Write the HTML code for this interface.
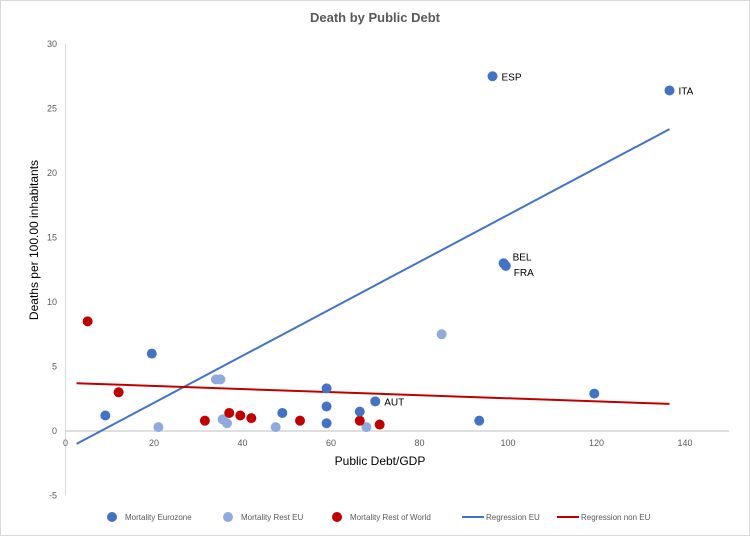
<!DOCTYPE html>
<html><head><meta charset="utf-8"><style>
body{margin:0;background:#fff;font-family:"Liberation Sans",sans-serif}
#c{width:750px;height:536px;position:relative}
svg text{font-family:"Liberation Sans",sans-serif}
</style></head><body>
<div id="c">
<svg id="s" width="750" height="536">
<rect x="0.5" y="0.5" width="749" height="535" fill="#fff" stroke="#d9d9d9"/>
<text x="375" y="22" text-anchor="middle" font-size="13" font-weight="bold" fill="#595959">Death by Public Debt</text>
<text x="380" y="465" text-anchor="middle" font-size="12" fill="#000">Public Debt/GDP</text>
<text transform="translate(38,240) rotate(-90)" text-anchor="middle" font-size="12" fill="#000">Deaths per 100.00 inhabitants</text>
<g id="axes"></g><g id="lines"></g><g id="pts"></g><g id="legend"></g>
</svg></div>
<script>
const xTicks=[0,20,40,60,80,100,120,140];
const yTicks=[-5,0,5,10,15,20,25,30];
const euroX=[96.5,136.5,99,99.5,9,19.5,49,59,59,59,66.5,70,93.5,119.5];
const euroY=[27.5,26.4,13,12.8,1.2,6,1.4,3.3,1.9,0.6,1.5,2.3,0.8,2.9];
const euroLabels=["ESP","ITA","BEL","FRA","","","","","","","","AUT","",""];
const restX=[21,34,35,35.5,36.5,47.5,68,85];
const restY=[0.3,4,4,0.9,0.6,0.3,0.3,7.5];
const worldX=[5,12,31.5,37,39.5,42,53,66.5,71];
const worldY=[8.5,3,0.8,1.4,1.2,1,0.8,0.8,0.5];
const regEUX=[2.5,136.5], regEUY=[-1,23.4];
const regNonX=[2.5,136.5], regNonY=[3.7,2.1];
const NS="http://www.w3.org/2000/svg";
const X=v=>65.5+v*(685-65.5)/140;
const Y=v=>431-v*12.9;
function mk(t,a,p){const e=document.createElementNS(NS,t);for(const k in a)e.setAttribute(k,a[k]);p.appendChild(e);return e;}
const ax=document.getElementById('axes');
let l=mk('line',{x1:65.5,x2:65.5,y1:Y(30),y2:Y(-5)+0,stroke:'#d9d9d9'},ax);

l=mk('line',{x1:65.5,x2:729,y1:Y(0),y2:Y(0),stroke:'#bfbfbf'},ax);

xTicks.forEach(v=>{const t=mk('text',{x:X(v),y:446,'text-anchor':'middle','font-size':'9',fill:'#595959'},ax);t.textContent=v;
});
yTicks.forEach(v=>{const t=mk('text',{x:57,y:Y(v)+3,'text-anchor':'end','font-size':'9',fill:'#595959'},ax);t.textContent=v;
});
const ln=document.getElementById('lines');
l=mk('line',{x1:X(regEUX[0]),y1:Y(regEUY[0]),x2:X(regEUX[1]),y2:Y(regEUY[1]),stroke:'#4472C4','stroke-width':2},ln);

l=mk('line',{x1:X(regNonX[0]),y1:Y(regNonY[0]),x2:X(regNonX[1]),y2:Y(regNonY[1]),stroke:'#C00000','stroke-width':2},ln);

const pg=document.getElementById('pts');
function dots(xs,ys,col,name,labels){xs.forEach((x,i)=>{const c=mk('circle',{cx:X(x),cy:Y(ys[i]),r:5,fill:col},pg);

if(labels&&labels[i]){const t=mk('text',{x:X(x)+(labels[i]=='FRA'?8:9),y:Y(ys[i])+(labels[i]=='BEL'?-3:labels[i]=='FRA'?10:4),'font-size':'10',fill:'#000'},pg);t.textContent=labels[i];
}});}
dots(restX,restY,'#8FAADC','point-rest-eu');
dots(worldX,worldY,'#C00000','point-rest-of-world');
dots(euroX,euroY,'#4472C4','point-eurozone',euroLabels);
const lg=document.getElementById('legend');
const items=[['c','#4472C4','Mortality Eurozone',112],['c','#8FAADC','Mortality Rest EU',228],['c','#C00000','Mortality Rest of World',337],['l','#4472C4','Regression EU',462],['l','#C00000','Regression non EU',557]];
items.forEach(it=>{let m;if(it[0]=='c')m=mk('circle',{cx:it[3],cy:517,r:5,fill:it[1]},lg);else m=mk('line',{x1:it[3],x2:it[3]+22,y1:517,y2:517,stroke:it[1],'stroke-width':2},lg);

const t=mk('text',{x:it[3]+(it[0]=='c'?13:24),y:520,'font-size':'8',fill:'#595959'},lg);t.textContent=it[2];
});
</script></body></html>
